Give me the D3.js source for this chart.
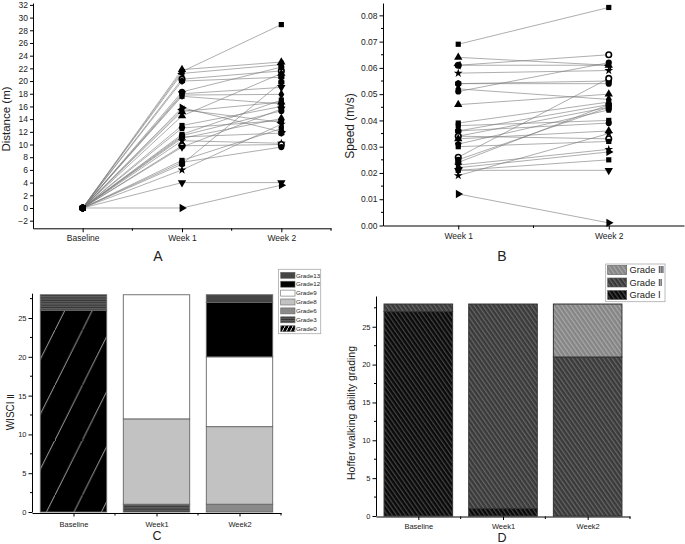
<!DOCTYPE html>
<html><head><meta charset="utf-8">
<script src="https://cdn.jsdelivr.net/npm/d3@7"></script>
<style>body{margin:0;background:#fff}svg{display:block;font-family:"Liberation Sans",Arial,sans-serif}</style>
</head><body><svg id="c" width="685" height="544"></svg>
<script>
// ---------- DATA ----------
const timeCats = ["Baseline", "Week 1", "Week 2"];
const distBase = [0,0,0,0,0,0,0,0,0,0,0,0,0,0,0,0,0,0,0,0,0,0,0,0,0,0,0,0];
const distW1 = [21.5,21.8,21.2,20.3,20.0,18.3,18.0,17.8,17.6,15.8,15.5,15.2,14.5,13.0,12.6,11.6,11.4,11.2,11.0,10.6,9.8,9.6,7.5,7.2,6.9,6.0,4.0,0.0];
const distW2 = [28.9,23.0,22.6,21.6,20.6,22.2,19.0,17.9,16.4,12.0,13.5,16.7,21.2,16.0,13.8,17.0,15.3,11.8,14.1,10.2,10.0,15.6,12.5,9.6,19.8,13.2,4.0,3.6];
const distShapes = ["square","up","left","ring","hexagon","circle","down","diamond","square","right","left","up","up","square","pentagon","square","circle","hexagon","diamond","star","ring","down","square","circle","hexagon","star","down","right"];

const speedCats = ["Week 1", "Week 2"];
const speedW1 = [0.069,0.064,0.061,0.061,0.058,0.054,0.054,0.052,0.051,0.046,0.039,0.038,0.036,0.036,0.034,0.034,0.033,0.031,0.030,0.026,0.025,0.024,0.023,0.022,0.021,0.021,0.019,0.012];
const speedW2 = [0.083,0.061,0.065,0.061,0.059,0.055,0.054,0.048,0.062,0.050,0.047,0.040,0.046,0.039,0.045,0.033,0.036,0.044,0.032,0.056,0.045,0.046,0.029,0.028,0.021,0.025,0.035,0.001];
const speedShapes = ["square","up","ring","left","star","hexagon","circle","diamond","circle","up","square","square","hexagon","circle","diamond","ring","up","pentagon","square","ring","circle","hexagon","star","right","down","square","star","right"];

const barCats = ["Baseline", "Week1", "Week2"];
const wisciGrades = ["Grade0","Grade3","Grade6","Grade8","Grade9","Grade12","Grade13"];
const wGrade0  = [26, 0, 0];
const wGrade3  = [2, 1, 0];
const wGrade6  = [0, 0, 1];
const wGrade8  = [0, 11, 10];
const wGrade9  = [0, 16, 9];
const wGrade12 = [0, 0, 7];
const wGrade13 = [0, 0, 1];
const wisciTicks = [0, 5, 10, 15, 20, 25];

const hofferGrades = ["Grade \u2160", "Grade \u2161", "Grade \u2162"];
const hGradeI   = [27, 1, 0];
const hGradeII  = [1, 27, 21];
const hGradeIII = [0, 0, 7];
const hofferTicks = [0, 5, 10, 15, 20, 25];

// ---------- SETUP ----------
const svg = d3.select("#c");
svg.append("rect").attr("width",685).attr("height",544).attr("fill","#fff");
const defs = svg.append("defs");

function stripePat(id, w, h, bg, lines){
  const p = defs.append("pattern").attr("id",id).attr("patternUnits","userSpaceOnUse")
    .attr("width",w).attr("height",h);
  p.append("rect").attr("width",w).attr("height",h).attr("fill",bg);
  lines(p);
  return p;
}
stripePat("g0",27.5,55,"#000",p=>{
  p.append("line").attr("x1",0).attr("y1",55).attr("x2",27.5).attr("y2",0).attr("stroke","#d0d0d0").attr("stroke-width",0.8);
});
stripePat("g0s",4,8,"#000",p=>{
  p.append("line").attr("x1",0).attr("y1",8).attr("x2",4).attr("y2",0).attr("stroke","#fff").attr("stroke-width",0.9);
});
stripePat("g3",4,2.4,"#333",p=>{
  p.append("rect").attr("y",1.2).attr("width",4).attr("height",0.7).attr("fill","#8a8a8a");
});
function diagPat(id,bg,fg){
  const p = stripePat(id,3.6,10,bg,p=>{
    p.append("rect").attr("x",0).attr("width",1.2).attr("height",10).attr("fill",fg);
  });
  p.attr("patternTransform","rotate(-35)");
}
diagPat("hI","#0a0a0a","#454545");
diagPat("hII","#3a3a3a","#676767");
diagPat("hIII","#858585","#a8a8a8");

function marker(g, type, x, y, s){
  const sz = s || 30;
  let d, rot = 0, fill = "#000", stroke = "none";
  const r = Math.sqrt(sz/Math.PI)*1.05;
  const poly = n => { const pts = d3.range(n).map(i=>{const a=-Math.PI/2+i*2*Math.PI/n; return [r*1.1*Math.cos(a), r*1.1*Math.sin(a)];}); return "M"+pts.map(p=>p.join(",")).join("L")+"Z"; };
  switch(type){
    case "square": d = d3.symbol(d3.symbolSquare, sz*0.9)(); break;
    case "circle": d = d3.symbol(d3.symbolCircle, sz)(); break;
    case "ring": d = d3.symbol(d3.symbolCircle, sz*0.8)(); fill="#fff"; stroke="#000"; break;
    case "up": d = d3.symbol(d3.symbolTriangle, sz)(); break;
    case "down": d = d3.symbol(d3.symbolTriangle, sz)(); rot=180; break;
    case "left": d = d3.symbol(d3.symbolTriangle, sz)(); rot=-90; break;
    case "right": d = d3.symbol(d3.symbolTriangle, sz)(); rot=90; break;
    case "diamond": d = d3.symbol(d3.symbolDiamond, sz)(); break;
    case "star": d = d3.symbol(d3.symbolStar, sz*0.8)(); break;
    case "hexagon": d = poly(6); break;
    case "pentagon": d = poly(5); break;
  }
  g.append("path").attr("d",d).attr("fill",fill).attr("stroke",stroke).attr("stroke-width",1.6)
    .attr("transform",`translate(${x},${y}) rotate(${rot})`);
}

function styleAxis(g, fs){
  g.selectAll("path.domain").attr("stroke","#000").attr("stroke-width",1);
  g.selectAll(".tick line").attr("stroke","#000");
  g.selectAll("text").attr("font-size",fs).attr("fill","#222").attr("font-family","'Liberation Sans',Arial,sans-serif");
}

// ---------- PANEL A ----------
(function(){
  const x = d3.scaleLinear().domain([-0.5,2.5]).range([33,331]);
  const y = d3.scaleLinear().domain([-3.2,32.3]).range([228.3,3]);
  const g = svg.append("g");
  const line = d3.line().x(d=>x(d[0])).y(d=>y(d[1]));
  distW1.forEach((v,i)=>{
    g.append("path").attr("d",line([[0,distBase[i]],[1,v],[2,distW2[i]]]))
      .attr("fill","none").attr("stroke","#777").attr("stroke-width",0.6);
  });
  distW1.forEach((v,i)=>{
    marker(g,"circle",x(0),y(distBase[i]),34);
    marker(g,distShapes[i],x(1),y(v));
    marker(g,distShapes[i],x(2),y(distW2[i]));
  });
  const ya = svg.append("g").attr("transform","translate(33,0)")
    .call(d3.axisLeft(y).tickValues(d3.range(-2,33,2)).tickSize(3).tickPadding(2).tickSizeOuter(0));
  styleAxis(ya,8.5);
  const xa = svg.append("g").attr("transform","translate(0,228.3)")
    .call(d3.axisBottom(x).tickValues([0,1,2]).tickFormat(i=>timeCats[i]).tickSize(4).tickPadding(3).tickSizeOuter(0));
  styleAxis(xa,8.5);
  svg.append("g").attr("transform","translate(0,228.3)").selectAll("line").data([0.5,1.5,2.5]).join("line")
    .attr("x1",d=>x(d)).attr("x2",d=>x(d)).attr("y1",0).attr("y2",2.5).attr("stroke","#000");
  svg.append("text").attr("transform","translate(10,119) rotate(-90)").attr("text-anchor","middle")
    .attr("font-size",11.5).attr("fill","#222").text("Distance (m)");
  svg.append("text").attr("x",158).attr("y",261).attr("text-anchor","middle").attr("font-size",14).attr("fill","#222").text("A");
})();

// ---------- PANEL B ----------
(function(){
  const x = d3.scaleLinear().domain([-0.5,1.5]).range([383,684]);
  const y = d3.scaleLinear().domain([0,0.0847]).range([225.5,3]);
  const g = svg.append("g");
  const line = d3.line().x(d=>x(d[0])).y(d=>y(d[1]));
  speedW1.forEach((v,i)=>{
    g.append("path").attr("d",line([[0,v],[1,speedW2[i]]]))
      .attr("fill","none").attr("stroke","#777").attr("stroke-width",0.6);
  });
  speedW1.forEach((v,i)=>{
    marker(g,speedShapes[i],x(0),y(v));
    marker(g,speedShapes[i],x(1),y(speedW2[i]));
  });
  const ya = svg.append("g").attr("transform","translate(383,0)")
    .call(d3.axisLeft(y).tickValues(d3.range(0,0.0801,0.01)).tickFormat(d3.format(".2f")).tickSize(3.5).tickPadding(2).tickSizeOuter(0));
  styleAxis(ya,8.5);
  svg.append("g").attr("transform","translate(383,0)").selectAll("line").data(d3.range(0.005,0.085,0.01)).join("line")
    .attr("x1",0).attr("x2",-2).attr("y1",d=>y(d)).attr("y2",d=>y(d)).attr("stroke","#000");
  const xa = svg.append("g").attr("transform","translate(0,225.5)")
    .call(d3.axisBottom(x).tickValues([0,1]).tickFormat(i=>speedCats[i]).tickSize(4).tickPadding(3).tickSizeOuter(0));
  styleAxis(xa,8.5);
  svg.append("g").attr("transform","translate(0,225.5)").selectAll("line").data([0.5]).join("line")
    .attr("x1",d=>x(d)).attr("x2",d=>x(d)).attr("y1",0).attr("y2",2.5).attr("stroke","#000");
  svg.append("text").attr("transform","translate(354,126) rotate(-90)").attr("text-anchor","middle")
    .attr("font-size",12).attr("fill","#222").text("Speed (m/s)");
  svg.append("text").attr("x",502).attr("y",261).attr("text-anchor","middle").attr("font-size",14).attr("fill","#222").text("B");
})();

// ---------- PANEL C ----------
(function(){
  const x = d3.scaleLinear().domain([-0.5,2.5]).range([32,281]);
  const y = d3.scaleLinear().domain([0,28.2]).range([512,293.2]);
  const series = [wGrade0,wGrade3,wGrade6,wGrade8,wGrade9,wGrade12,wGrade13];
  const fills = ["url(#g0)","url(#g3)","#8a8a8a","#c2c2c2","#fff","#000","#454545"];
  const legFills = ["url(#g0s)","url(#g3)","#8a8a8a","#c2c2c2","#fff","#000","#454545"];
  const rows = barCats.map((c,j)=>{ const o={cat:j}; wisciGrades.forEach((gname,k)=>o[gname]=series[k][j]); return o; });
  const stacked = d3.stack().keys(wisciGrades)(rows);
  const bw = (x(1)-x(0))*0.8;
  const g = svg.append("g");
  stacked.forEach((s,k)=>{
    g.selectAll(null).data(s.filter(d=>d[1]>d[0])).join("rect")
      .attr("x",d=>x(d.data.cat)-bw/2).attr("width",bw)
      .attr("y",d=>y(d[1])).attr("height",d=>y(d[0])-y(d[1]))
      .attr("fill",fills[k]).attr("stroke","#666").attr("stroke-width",0.9);
  });
  const ya = svg.append("g").attr("transform","translate(32,0)")
    .call(d3.axisLeft(y).tickValues(wisciTicks).tickSize(3.5).tickPadding(2).tickSizeOuter(0));
  styleAxis(ya,7.5);
  svg.append("g").attr("transform","translate(32,0)").selectAll("line").data(d3.range(2.5,28,5)).join("line")
    .attr("x1",0).attr("x2",-2).attr("y1",d=>y(d)).attr("y2",d=>y(d)).attr("stroke","#000");
  const xa = svg.append("g").attr("transform","translate(0,513)")
    .call(d3.axisBottom(x).tickValues([0,1,2]).tickFormat(i=>barCats[i]).tickSize(3.5).tickPadding(5).tickSizeOuter(0));
  styleAxis(xa,7.5);
  svg.append("g").attr("transform","translate(0,513)").selectAll("line").data([0.5,1.5,2.5]).join("line")
    .attr("x1",d=>x(d)).attr("x2",d=>x(d)).attr("y1",0).attr("y2",2.5).attr("stroke","#000");
  svg.append("text").attr("transform","translate(13.5,412) rotate(-90)").attr("text-anchor","middle")
    .attr("font-size",10).attr("fill","#222").text("WISCI \u2161");
  svg.append("text").attr("x",157).attr("y",540).attr("text-anchor","middle").attr("font-size",12.5).attr("fill","#222").text("C");
  const lg = svg.append("g");
  lg.append("rect").attr("x",278.5).attr("y",269.3).attr("width",42.2).attr("height",64.4).attr("fill","#fff").attr("stroke","#aaa").attr("stroke-width",0.8);
  const order = [6,5,4,3,2,1,0];
  order.forEach((k,r)=>{
    const cy = 275.3 + r*8.9;
    lg.append("rect").attr("x",280.7).attr("y",cy-3).attr("width",14.3).attr("height",6)
      .attr("fill",legFills[k]).attr("stroke","#666").attr("stroke-width",0.6);
    lg.append("text").attr("x",296).attr("y",cy+2.2).attr("font-size",6.2).attr("fill","#222").text(wisciGrades[k]);
  });
})();

// ---------- PANEL D ----------
(function(){
  const x = d3.scaleLinear().domain([-0.5,2.5]).range([376,630]);
  const y = d3.scaleLinear().domain([0,29.06]).range([516,296]);
  const series = [hGradeI,hGradeII,hGradeIII];
  const fills = ["url(#hI)","url(#hII)","url(#hIII)"];
  const rows = barCats.map((c,j)=>{ const o={cat:j}; hofferGrades.forEach((gname,k)=>o[gname]=series[k][j]); return o; });
  const stacked = d3.stack().keys(hofferGrades)(rows);
  const bw = (x(1)-x(0))*0.81;
  const g = svg.append("g");
  stacked.forEach((s,k)=>{
    g.selectAll(null).data(s.filter(d=>d[1]>d[0])).join("rect")
      .attr("x",d=>x(d.data.cat)-bw/2).attr("width",bw)
      .attr("y",d=>y(d[1])).attr("height",d=>y(d[0])-y(d[1]))
      .attr("fill",fills[k]).attr("stroke","#333").attr("stroke-width",1);
  });
  const ya = svg.append("g").attr("transform","translate(376,0)")
    .call(d3.axisLeft(y).tickValues(hofferTicks).tickSize(3.5).tickPadding(2).tickSizeOuter(0));
  styleAxis(ya,7.5);
  svg.append("g").attr("transform","translate(376,0)").selectAll("line").data(d3.range(2.5,29,5)).join("line")
    .attr("x1",0).attr("x2",-2).attr("y1",d=>y(d)).attr("y2",d=>y(d)).attr("stroke","#000");
  const xa = svg.append("g").attr("transform","translate(0,516.5)")
    .call(d3.axisBottom(x).tickValues([0,1,2]).tickFormat(i=>barCats[i]).tickSize(3.5).tickPadding(3.5).tickSizeOuter(0));
  styleAxis(xa,7.5);
  svg.append("g").attr("transform","translate(0,516.5)").selectAll("line").data([0.5,1.5,2.5]).join("line")
    .attr("x1",d=>x(d)).attr("x2",d=>x(d)).attr("y1",0).attr("y2",2.5).attr("stroke","#000");
  svg.append("text").attr("transform","translate(355,413) rotate(-90)").attr("text-anchor","middle")
    .attr("font-size",10.5).attr("fill","#222").text("Hoffer walking ability grading");
  svg.append("text").attr("x",502).attr("y",542).attr("text-anchor","middle").attr("font-size",12.5).attr("fill","#222").text("D");
  const lg = svg.append("g");
  lg.append("rect").attr("x",605.7).attr("y",264).attr("width",59.3).attr("height",37.7).attr("fill","#fff").attr("stroke","#aaa").attr("stroke-width",0.8);
  [2,1,0].forEach((k,r)=>{
    const cy = 270 + r*12.5;
    lg.append("rect").attr("x",607.7).attr("y",cy-4.5).attr("width",19).attr("height",9)
      .attr("fill",fills[k]).attr("stroke","#555").attr("stroke-width",0.6);
    lg.append("text").attr("x",629.5).attr("y",cy+3.3).attr("font-size",9.3).attr("fill","#222").text(hofferGrades[k]);
  });
})();
</script></body></html>
